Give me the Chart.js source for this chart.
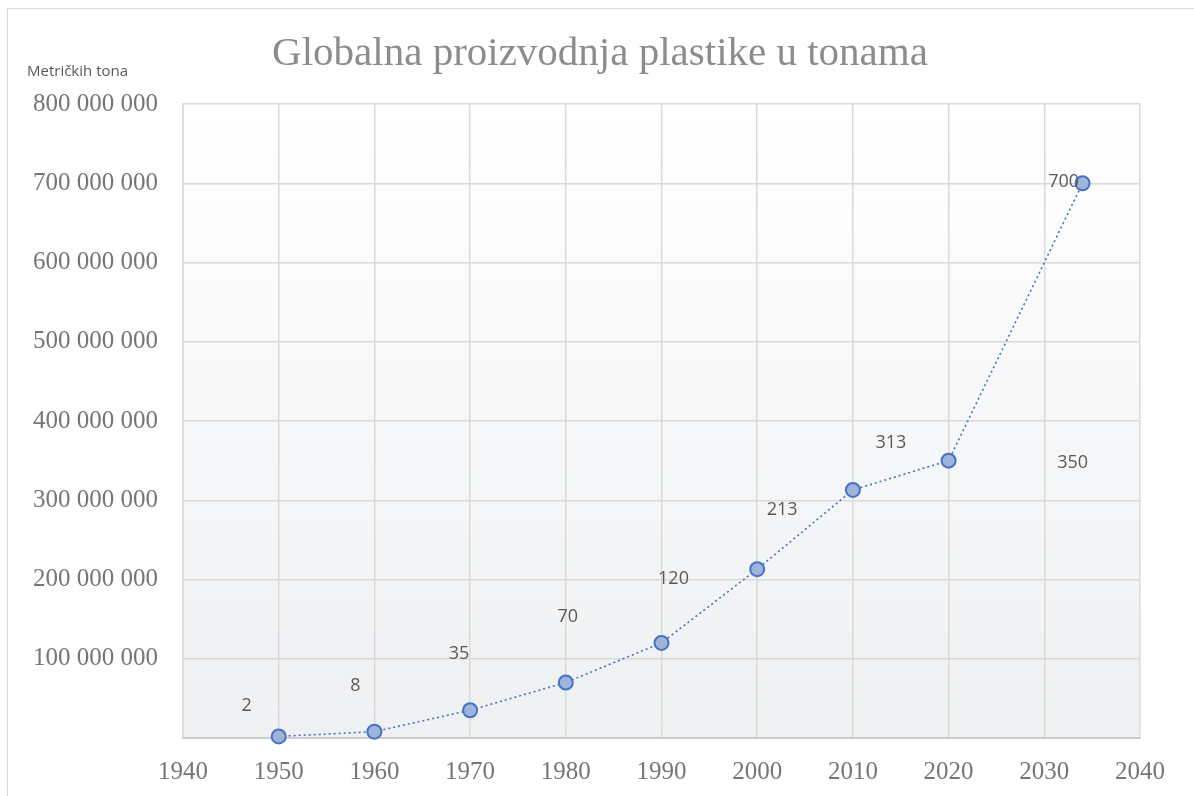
<!DOCTYPE html>
<html lang="hr">
<head>
<meta charset="UTF-8">
<title>Globalna proizvodnja plastike u tonama</title>
<script src="https://cdn.jsdelivr.net/npm/chart.js"></script>
<style>
  html, body { margin: 0; padding: 0; background: #fff; }
  #wrap { position: relative; width: 1194px; height: 796px; }
  #frame { position: absolute; left: 7px; top: 8px; right: 0; bottom: 0; border-top: 1px solid #d9d9d9; border-left: 1px solid #d9d9d9; pointer-events: none; }
</style>
</head>
<body>
<div id="wrap">
  <canvas id="plastic"></canvas>
  <div id="frame"></div>
</div>
<script>
  // godine i proizvodnja (tone)
  const years = [1950, 1960, 1970, 1980, 1990, 2000, 2010, 2020, 2034];
  const tonnes = [2000000, 8000000, 35000000, 70000000, 120000000, 213000000, 313000000, 350000000, 700000000];
  const labelTexts = ['2', '8', '35', '70', '120', '213', '313', '350', '700'];
  // label offsets from the point, in pixels (hand placed in the original)
  const labelShift = [[-32, -31], [-19, -46], [-11, -56], [2, -66], [12, -64], [25, -59], [38, -47], [124, 2], [-19, -1]];

  const fmt = v => String(v).replace(/\B(?=(\d{3})+(?!\d))/g, ' ');

  const decor = {
    id: 'decor',
    beforeDraw(chart) {
      const { ctx, chartArea: a } = chart;
      const g = ctx.createLinearGradient(0, a.top, 0, a.bottom);
      g.addColorStop(0, '#ffffff');
      g.addColorStop(1, '#eef0f2');
      ctx.save();
      ctx.fillStyle = g;
      ctx.fillRect(a.left, a.top, a.right - a.left, a.bottom - a.top);
      ctx.restore();
    },
    afterDraw(chart) {
      const { ctx } = chart;
      ctx.save();
      ctx.fillStyle = '#8c8c8c';
      ctx.font = '41px "Liberation Serif"';
      ctx.textAlign = 'center';
      ctx.textBaseline = 'alphabetic';
      ctx.fillText('Globalna proizvodnja plastike u tonama', 600, 65);
      ctx.fillStyle = '#595959';
      ctx.font = '15px "Open Sans"';
      ctx.textAlign = 'left';
      ctx.textBaseline = 'middle';
      ctx.fillText('Metričkih tona', 27, 72);

      ctx.font = '18px "Open Sans"';
      ctx.textAlign = 'center';
      chart.getDatasetMeta(0).data.forEach((pt, i) => {
        ctx.fillText(labelTexts[i], pt.x + labelShift[i][0], pt.y + labelShift[i][1]);
      });
      ctx.restore();
    }
  };

  new Chart(document.getElementById('plastic'), {
    type: 'scatter',
    data: {
      datasets: [{
        data: years.map((y, i) => ({ x: y, y: tonnes[i] })),
        showLine: true,
        borderColor: '#4472c4',
        borderWidth: 1.6,
        borderDash: [2, 3],
        pointRadius: 7,
        pointBorderWidth: 2,
        pointBackgroundColor: '#9fb4da',
        pointBorderColor: '#4472c4',
        clip: false
      }]
    },
    options: {
      responsive: true,
      maintainAspectRatio: false,
      animation: false,
      layout: { padding: { top: 104, right: 54, bottom: 0, left: 0 } },
      plugins: { legend: { display: false }, tooltip: { enabled: false } },
      scales: {
        x: {
          type: 'linear',
          min: 1940,
          max: 2040,
          ticks: {
            stepSize: 10,
            padding: 19,
            color: '#767676',
            font: { family: 'Liberation Serif', size: 25 },
            callback: v => String(v)
          },
          grid: { color: '#d9d9d9', lineWidth: 1.5, drawTicks: false },
          border: { color: '#cccccc', width: 2 },
          afterFit(s) { s.height = 58; }
        },
        y: {
          min: 0,
          max: 800000000,
          ticks: {
            stepSize: 100000000,
            padding: 25,
            color: '#767676',
            font: { family: 'Liberation Serif', size: 25 },
            callback: v => v === 0 ? '' : fmt(v)
          },
          grid: { color: '#d9d9d9', lineWidth: 1.5, drawTicks: false },
          border: { color: '#d9d9d9', width: 1.5 },
          afterFit(s) { s.width = 183; }
        }
      }
    },
    plugins: [decor]
  });
</script>
</body>
</html>
